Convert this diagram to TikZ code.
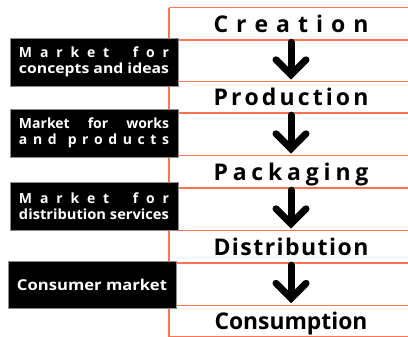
\documentclass[tikz,border=0pt]{standalone}
\usepackage{fontspec}
\setmainfont{Open Sans}
\usetikzlibrary{calc}
\definecolor{rulecol}{RGB}{255,115,82}

% a line of text stretched (or squeezed) horizontally to a given width in pt
\newsavebox\fitbox
\newcommand\fitline[2]{\sbox\fitbox{#2}%
  \pgfmathsetmacro\fitscale{#1/\the\wd\fitbox}%
  \scalebox{\fitscale}[1]{\usebox\fitbox}}
% a line whose glue is spread to fill a given width
\newcommand\spreadline[2]{\makebox[#1pt][s]{#2}}

\begin{document}
\begin{tikzpicture}[x=1pt,y=-1pt,
  rule/.style={draw=rulecol, line width=1.4pt},
  stage/.style={minimum width=244pt, minimum height=#1, inner sep=0pt,
    text height=18pt, text depth=1pt,
    font=\fontsize{23}{23}\selectfont\bfseries},
  market/.style={fill=black, draw=black!45, line width=0.6pt,
    minimum width=168pt, minimum height=48pt, inner sep=0pt,
    text=white, align=center,
    font=\fontsize{14}{16.5}\selectfont\bfseries},
  fat/.style={draw=black, line width=7pt, line cap=round},
]
\useasboundingbox (0,0) rectangle (408,337);

% value-chain stages
\node[stage=32pt] (creation) at (291,24)
  {\spreadline{155}{C\hfil r\hfil e\hfil a\hfil t\hfil i\hfil o\hfil n}};
\node[stage=31pt] (production) at (291,97.5)
  {\spreadline{155}{P\hfil r\hfil o\hfil d\hfil u\hfil c\hfil t\hfil i\hfil o\hfil n}};
\node[stage=32pt] (packaging) at (291,172)
  {\spreadline{155}{P\hfil a\hfil c\hfil k\hfil a\hfil g\hfil i\hfil n\hfil g}};
\node[stage=32pt] (distribution) at (291,247)
  {\spreadline{155}{D\hfil i\hfil s\hfil t\hfil r\hfil i\hfil b\hfil u\hfil t\hfil i\hfil o\hfil n}};
\node[stage=31pt] (consumption) at (291,321)
  {\fitline{153}{Consumption}};

% ruled bands and the common left edge
\foreach \n in {creation,production,packaging,distribution,consumption}
  \draw[rule] (\n.north west) -- (\n.north east)
              (\n.south west) -- (\n.south east);
\draw[rule] (creation.north west) -- (consumption.south west);

% thick arrows between consecutive stages
\foreach \a/\b in {creation/production,production/packaging,
                   packaging/distribution,distribution/consumption}{
  \draw[fat] ($(\a.south)+(0,2)$) -- ($(\b.north)+(0,-8)$);
  \draw[fat, line join=miter] ($(\b.north)+(-15,-22)$) -- ($(\b.north)+(0,-7)$)
        -- ($(\b.north)+(15,-22)$);
}

% markets
\node[market] (m1) at (94,62)
  {\spreadline{150}{M\hfil a\hfil r\hfil k\hfil e\hfil t\hfil\hfil\hfil f\hfil o\hfil r}\\
   \fitline{150}{concepts and ideas}};
\node[market] (m2) at (94,133)
  {\spreadline{150}{Market\hfil for\hfil works}\\
   \spreadline{150}{a\hfil n\hfil d\hfil\hfil p\hfil r\hfil o\hfil d\hfil u\hfil c\hfil t\hfil s}};
\node[market] (m3) at (94,206)
  {\spreadline{150}{M\hfil a\hfil r\hfil k\hfil e\hfil t\hfil\hfil\hfil f\hfil o\hfil r}\\
   \fitline{150}{distribution services}};
\node[market, minimum height=47pt, font=\fontsize{15}{18}\selectfont\bfseries]
  (m4) at (92,284.5) {\fitline{150}{Consumer market}};
\end{tikzpicture}
\end{document}
